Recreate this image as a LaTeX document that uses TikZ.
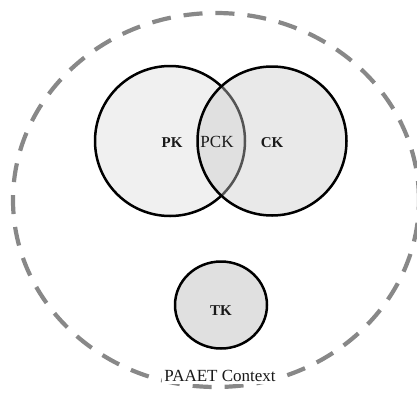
\documentclass[tikz,border=0pt]{standalone}
\usepackage{fontspec}
\setmainfont{Liberation Serif}
\usetikzlibrary{shapes.geometric}
\definecolor{pkfill}{RGB}{240,240,240}
\definecolor{ckfill}{RGB}{202,202,202}
\definecolor{tkfill}{RGB}{224,224,224}
\definecolor{ctxgray}{RGB}{136,136,136}
\definecolor{txt}{RGB}{25,25,25}
\begin{document}
\begin{tikzpicture}[x=1pt,y=-1pt,
  ctx/.style={draw=ctxgray, line width=4.2pt, dash pattern=on 19pt off 13pt, ellipse, inner sep=0pt},
  setc/.style={draw=black, line width=2.5pt, circle, inner sep=0pt},
  boldlab/.style={font=\fontsize{15}{17}\selectfont\bfseries, text=txt, inner sep=1pt},
  lab/.style={font=\fontsize{17}{19}\selectfont, text=txt, inner sep=1pt}]
\useasboundingbox (0,0) rectangle (417,394);
\node[ctx, minimum width=406pt, minimum height=374pt] (context) at (216,200) {};
\node[setc, fill=pkfill, minimum size=150pt] (pk) at (170,141) {};
\node[setc, fill=ckfill, fill opacity=0.42, draw opacity=1, minimum size=149pt] (ck) at (272,141) {};
\node[setc, ellipse, fill=tkfill, minimum width=92pt, minimum height=87pt] (tk) at (221,305) {};
\node[boldlab] (pklab) at (172,143) {PK};
\node[lab] (pcklab) at (217,142) {PCK};
\node[boldlab] (cklab) at (272,143) {CK};
\node[boldlab] (tklab) at (221,311) {TK};
\node[lab, fill=white, inner sep=2pt] (ctxlab) at (220,376) {PAAET Context};
\end{tikzpicture}
\end{document}
